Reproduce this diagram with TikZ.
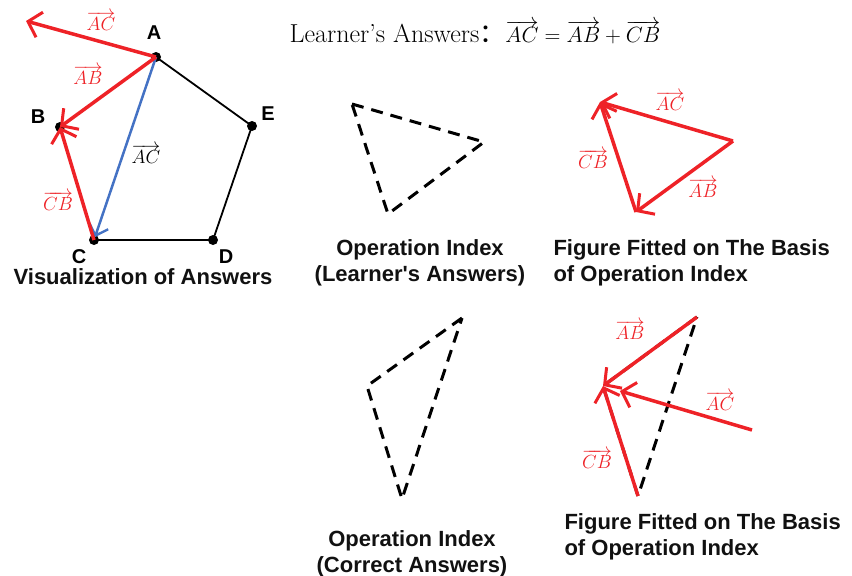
\RequirePackage{fix-cm}
\documentclass[tikz,border=0pt]{standalone}
\usepackage{fontspec}
\setsansfont{Liberation Sans}
\newfontfamily\cjk{Noto Sans CJK SC}
\usetikzlibrary{arrows.meta}
\definecolor{vecred}{HTML}{EE2227}
\definecolor{vecblue}{HTML}{4472C4}
\definecolor{textcolor}{HTML}{111111}
\tikzset{
  caption/.style={font=\sffamily\bfseries\fontsize{22}{26}\selectfont, text=textcolor},
  vlabel/.style={font=\fontsize{19}{21}\selectfont, text=vecred},
  ptlabel/.style={font=\sffamily\bfseries\fontsize{20}{22}\selectfont},
  vertex/.style={circle, fill=black, inner sep=0pt, minimum size=10pt},
  redvec/.style={-{Straight Barb[length=12pt, width=26pt, line width=3pt]}, draw=vecred, line width=3.5pt},
  bluevec/.style={-{Straight Barb[length=10pt, width=20pt, line width=2.4pt]}, draw=vecblue, line width=2.5pt},
  side/.style={draw=black, line width=1.8pt},
  guide/.style={draw=black, line width=3pt, dash pattern=on 12pt off 8pt}
}
\begin{document}
\begin{tikzpicture}[x=1pt,y=-1pt]
  \useasboundingbox (0,0) rectangle (852,576);

  \node[font=\fontsize{26}{30}\selectfont] (title) at (475,32)
    {Learner’s Answers{\cjk ：}{\fontsize{22}{26}\selectfont$\overrightarrow{AC}=\overrightarrow{AB}+\overrightarrow{CB}$}};

  % Pentagon with the learner's vectors.
  \node[vertex] (A) at (156,57) {};
  \node[vertex] (B) at (60,127) {};
  \node[vertex] (C) at (94,240) {};
  \node[vertex] (D) at (213,240) {};
  \node[vertex] (E) at (252,126) {};
  \coordinate (tipAC) at (26,21);

  \draw[side] (A.center) -- (E.center) -- (D.center) -- (C.center);
  \draw[bluevec, shorten >=3pt] (A.center) -- (C.center);
  \draw[redvec] (A.center) -- (tipAC);
  \draw[redvec] (A.center) -- (B.center);
  \draw[redvec] (C.center) -- (B.center);

  \node[ptlabel] (labA) at (154,33) {A};
  \node[ptlabel] (labB) at (38,117) {B};
  \node[ptlabel] (labC) at (79,257) {C};
  \node[ptlabel] (labD) at (226,257) {D};
  \node[ptlabel] (labE) at (268,114) {E};

  \node[vlabel] (penAC) at (101,21) {$\overrightarrow{AC}$};
  \node[vlabel] (penAB) at (88,75) {$\overrightarrow{AB}$};
  \node[vlabel] (penCB) at (58,201) {$\overrightarrow{CB}$};
  \node[vlabel, text=black] (penAC2) at (146,154) {$\overrightarrow{AC}$};

  \node[caption] (vis) at (143,277) {Visualization of Answers};

  % Operation index of the learner's answers.
  \coordinate (l1) at (352,104);
  \coordinate (l2) at (484,142);
  \coordinate (l3) at (388,214);
  \draw[guide] (l1) -- (l2) -- (l3) -- cycle;
  \node[caption, align=center] (opl) at (420,263)
    {Operation Index\\(Learner\textquotesingle s Answers)};

  % Fitted figure, learner's answers.
  \coordinate (f1) at (733,141);
  \coordinate (f2) at (600,102);
  \coordinate (f3) at (636,212);
  \draw[redvec] (f1) -- (f2);
  \draw[redvec] (f1) -- (f3);
  \draw[redvec] (f3) -- (f2);
  \node[vlabel] (fitAC) at (670,101) {$\overrightarrow{AC}$};
  \node[vlabel] (fitCB) at (593,159) {$\overrightarrow{CB}$};
  \node[vlabel] (fitAB) at (703,188) {$\overrightarrow{AB}$};
  \node[caption, align=left, anchor=west] (fitl) at (550,263)
    {Figure Fitted on The Basis\\of Operation Index};

  % Operation index of the correct answers.
  \coordinate (c1) at (462,318);
  \coordinate (c2) at (367,386);
  \coordinate (c3) at (402,499);
  \draw[guide] (c1) -- (c2) -- (c3) -- cycle;
  \node[caption, align=center] (opc) at (412,554)
    {Operation Index\\(Correct Answers)};

  % Fitted figure, correct answers.
  \coordinate (g1) at (697,317);
  \coordinate (g2) at (603,386);
  \coordinate (g3) at (638,496);
  \coordinate (g4) at (752,430);
  \coordinate (g5) at (620,391);
  \draw[guide] (g1) -- (g2) -- (g3) -- cycle;
  \draw[redvec] (g1) -- (g2);
  \draw[redvec] (g4) -- (g5);
  \draw[redvec] (g3) -- (g2);
  \node[vlabel] (corAB) at (630,330) {$\overrightarrow{AB}$};
  \node[vlabel] (corAC) at (720,401) {$\overrightarrow{AC}$};
  \node[vlabel] (corCB) at (597,459) {$\overrightarrow{CB}$};
  \node[caption, align=left, anchor=west] (fitc) at (561,537)
    {Figure Fitted on The Basis\\of Operation Index};

\end{tikzpicture}
\end{document}
